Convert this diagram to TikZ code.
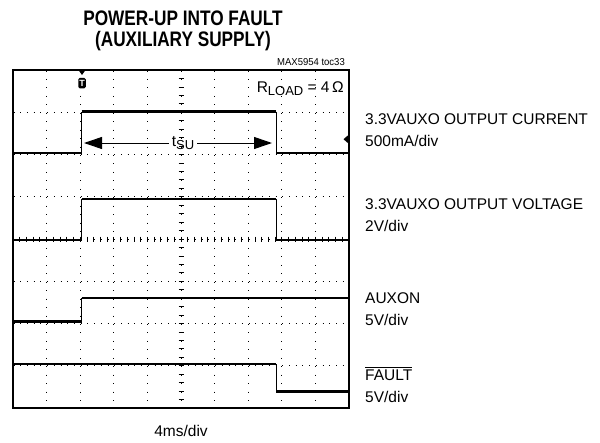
\documentclass[tikz,border=0pt]{standalone}
\usepackage{fontspec}
\setmainfont{Liberation Sans}
\usepackage{amssymb}
\usepackage{amsmath}
\usetikzlibrary{arrows.meta}

\tikzset{
  lbl/.style={anchor=base west, inner sep=0pt, font=\fontsize{15.5}{18}\selectfont},
  ttl/.style={anchor=base, inner sep=0pt, font=\bfseries\fontsize{21}{24}\selectfont},
  trace/.style={line width=2.7pt},
  edge/.style={line width=0.9pt},
  gridx/.style={line width=1pt, dash pattern=on 1pt off 5.72pt},
  gridy/.style={line width=1pt, dash pattern=on 1pt off 7.45pt},
  tsuarrow/.style={line width=1pt, arrows={-Triangle[length=18pt,width=12pt]}}
}

\begin{document}
\begin{tikzpicture}[x=1pt,y=1pt,yscale=-1,xscale=1]
\path[use as bounding box] (0,0) rectangle (600,442);

% Text Node
\draw (183,25) node [ttl] (title1) {\scalebox{0.82}[1]{POWER-UP INTO FAULT}};
% Text Node
\draw (183,46) node [ttl] (title2) {\scalebox{0.82}[1]{(AUXILIARY SUPPLY)}};
% Text Node
\draw (345,65) node [anchor=base east][inner sep=0pt][font=\fontsize{10}{11}\selectfont] (toc) {\scalebox{0.95}[1]{MAX5954 toc33}};

% Grid
\foreach \k in {1,...,7} {
  \draw [gridx] (13.5,{70+\k*42.25}) -- (349,{70+\k*42.25});
}
\foreach \k in {1,...,9} {
  \draw [gridy] ({13+\k*33.6},70.5) -- ({13+\k*33.6},408);
}
% center axis ticks
\foreach \i in {1,...,39} {
  \draw [line width=0.8pt] (178.5,{70+\i*8.45}) -- ++(5,0);
}
\foreach \i in {1,...,49} {
  \draw [line width=0.8pt] ({13+\i*6.72},236.5) -- ++(0,5);
}

% Traces
\draw [trace] (13,153) -- (81.5,153);
\draw [edge] (81.5,153) -- (81.5,111.5);
\draw [trace] (81.5,111.5) -- (276,111.5);
\draw [edge] (276,111.5) -- (276,153);
\draw [trace] (276,153) -- (349,153);

\draw [trace] (13,240) -- (81.5,240);
\draw [edge] (81.5,240) -- (81.5,199);
\draw [trace] (81.5,199) -- (276,199);
\draw [edge] (276,199) -- (276,240);
\draw [trace] (276,240) -- (349,240);

\draw [trace] (13,321.5) -- (81.5,321.5);
\draw [edge] (81.5,321.5) -- (81.5,298);
\draw [trace] (81.5,298) -- (349,298);

\draw [trace] (13,364) -- (276,364);
\draw [edge] (276,364) -- (276,391.5);
\draw [trace] (276,391.5) -- (349,391.5);

% Shape: Rectangle
\draw [line width=2.5pt] (13,70) rectangle (349,408);

% Markers
\fill (78.5,70) -- (85.5,70) -- (82,75) -- cycle;
\draw (82,83) node [fill=black][rounded corners=1.5pt][text=white][inner sep=0pt][minimum width=7.5pt][minimum height=10.5pt][font=\bfseries\fontsize{9}{9}\selectfont] (trig) {T};
\fill (349,134.5) -- (349,144) -- (343.5,139.2) -- cycle;

% Text Node
\draw (344,92) node [anchor=base east][inner sep=0pt][font=\fontsize{15.5}{18}\selectfont] (rload) {R\raisebox{-3pt}{\fontsize{13}{13}\selectfont LOAD} = 4\,Ω};

% Text Node
\draw (183,143) node [inner sep=3pt][font=\fontsize{15.5}{18}\selectfont] (tsu) {t\raisebox{-3.5pt}{\fontsize{13}{13}\selectfont SU}};
\coordinate (tsuleft) at (84,143);
\coordinate (tsuright) at (272,143);
% Connection
\draw [tsuarrow] (tsu.west) -- (tsuleft);
% Connection
\draw [tsuarrow] (tsu.east) -- (tsuright);

% Text Node
\draw (365,124) node [lbl] (curname) {3.3VAUXO OUTPUT CURRENT};
\draw (365,146) node [lbl] (curdiv) {500mA/div};
% Text Node
\draw (365,209) node [lbl] (voltname) {3.3VAUXO OUTPUT VOLTAGE};
\draw (365,231) node [lbl] (voltdiv) {2V/div};
% Text Node
\draw (365,303) node [lbl] (auxname) {AUXON};
\draw (365,325) node [lbl] (auxdiv) {5V/div};
% Text Node
\draw (365,380) node [lbl] (faultname) {$\overline{\mbox{FAULT}}$};
\draw (365,402) node [lbl] (faultdiv) {5V/div};

% Text Node
\draw (181,436.5) node [anchor=base][inner sep=0pt][font=\fontsize{15.5}{18}\selectfont] (timediv) {4ms/div};

\end{tikzpicture}
\end{document}
